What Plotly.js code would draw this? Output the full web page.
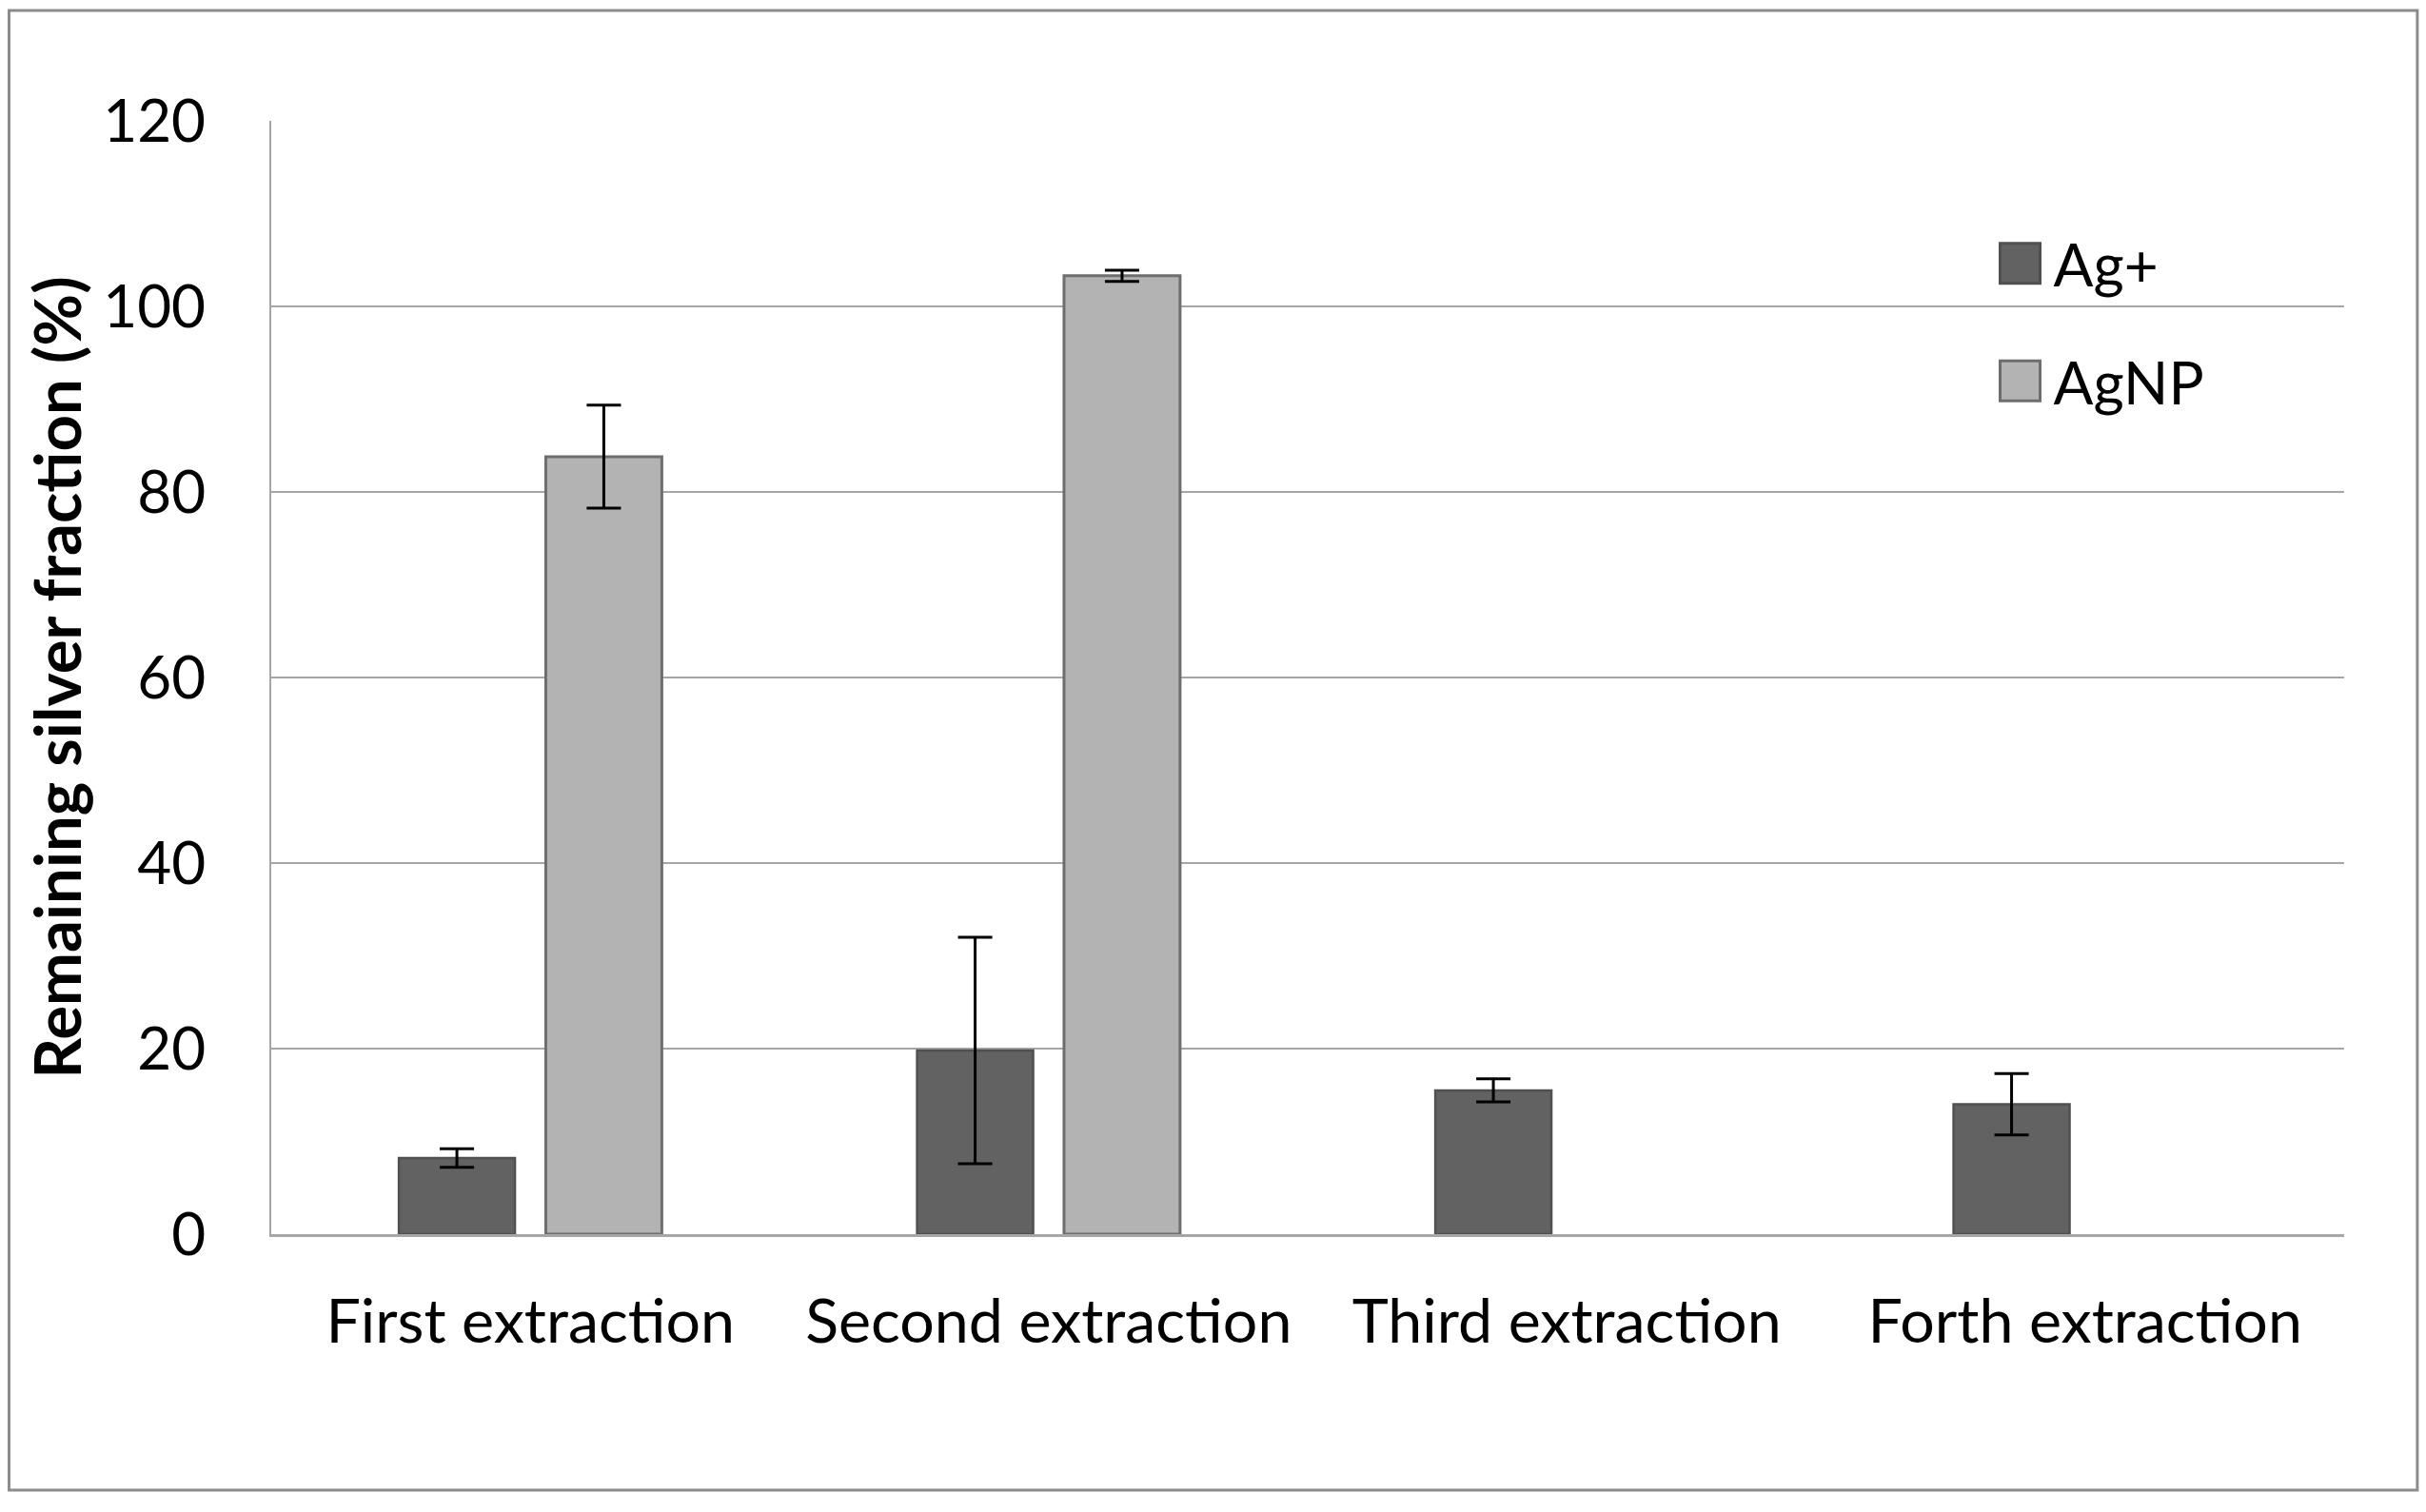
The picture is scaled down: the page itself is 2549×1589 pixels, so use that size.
<!DOCTYPE html>
<html>
<head>
<meta charset="utf-8">
<script src="https://cdn.plot.ly/plotly-3.0.1.min.js"></script>
<style>
  html, body { margin: 0; padding: 0; background: #ffffff; }
  #chart { width: 2549px; height: 1589px; }
</style>
</head>
<body>
<div id="chart"></div>
<script>
// ---- data ----
const categories = ["First extraction", "Second extraction", "Third extraction", "Forth extraction"];
const agIonValues = [8.2, 19.8, 15.5, 14.0];
const agIonErrors = [1.0, 12.2, 1.25, 3.3];
const agNpValues = [83.8, 103.3, null, null];
const agNpErrors = [5.55, 0.6, null, null];
const seriesNames = ["Ag+", "AgNP"];
const yTickValues = [0, 20, 40, 60, 80, 100, 120];
const yAxisTitle = "Remaining silver fraction (%)";

const FONT = "Lato, 'Open Sans', sans-serif";

const traces = [
  {
    type: "bar",
    name: seriesNames[0],
    x: categories,
    y: agIonValues,
    legendgroup: "a",
    marker: { color: "#626262", line: { color: "#505050", width: 2.5 } },
    error_y: { type: "data", array: agIonErrors, visible: true, color: "#000000", thickness: 3, width: 18 }
  },
  {
    type: "bar",
    name: seriesNames[1],
    x: categories,
    y: agNpValues,
    legendgroup: "b",
    marker: { color: "#b3b3b3", line: { color: "#6e6e6e", width: 3 } },
    error_y: { type: "data", array: agNpErrors, visible: true, color: "#000000", thickness: 3, width: 18 }
  }
];

const layout = {
  width: 2549,
  height: 1589,
  paper_bgcolor: "#ffffff",
  plot_bgcolor: "#ffffff",
  font: { family: FONT, color: "#000000", size: 62 },
  margin: { l: 284.5, r: 86, t: 127, b: 292, pad: 0 },
  barmode: "group",
  bargap: 0.433,
  bargroupgap: 0.21,
  showlegend: true,
  legend: {
    x: 0.8276, y: 0.912, xanchor: "left", yanchor: "top",
    font: { family: FONT, size: 62, color: "#000000" },
    bgcolor: "rgba(0,0,0,0)",
    traceorder: "grouped",
    tracegroupgap: 40,
    itemwidth: 60
  },
  xaxis: {
    type: "category",
    showgrid: false,
    showline: true,
    linecolor: "#a6a6a6",
    linewidth: 2.5,
    ticks: "",
    ticklabelstandoff: 34,
    tickfont: { family: FONT, size: 64.5, color: "#000000" },
    fixedrange: true
  },
  yaxis: {
    range: [0, 120],
    tickvals: yTickValues,
    ticktext: yTickValues.map(String),
    showgrid: true,
    gridcolor: "#a6a6a6",
    gridwidth: 2.5,
    zeroline: false,
    showline: true,
    linecolor: "#a6a6a6",
    linewidth: 2.5,
    ticks: "",
    ticklabelstandoff: 54,
    tickfont: { family: FONT, size: 62, color: "#000000" },
    title: {
      text: "<b>" + yAxisTitle + "</b>",
      font: { family: FONT, size: 67, color: "#000000" },
      standoff: 1
    },
    automargin: false,
    fixedrange: true
  },
  shapes: [
    {
      type: "rect", xref: "paper", yref: "paper", layer: "below",
      x0: -0.1265, x1: 1.0353, y0: -0.2299, y1: 1.0991,
      line: { color: "#8c8c8c", width: 3 }, fillcolor: "rgba(0,0,0,0)"
    }
  ]
};

function enlargeLegendSwatches() {
  // make the legend swatches the size of the reference's squares
  document.querySelectorAll("#chart .legend .legendpoints path").forEach(p => {
    p.setAttribute("d", "M21,21H-21V-21H21Z");
    p.style.strokeWidth = "3px";
  });
}

Plotly.newPlot("chart", traces, layout, { displayModeBar: false, staticPlot: true })
  .then(gd => { enlargeLegendSwatches(); gd.on("plotly_afterplot", enlargeLegendSwatches); });
</script>
</body>
</html>
